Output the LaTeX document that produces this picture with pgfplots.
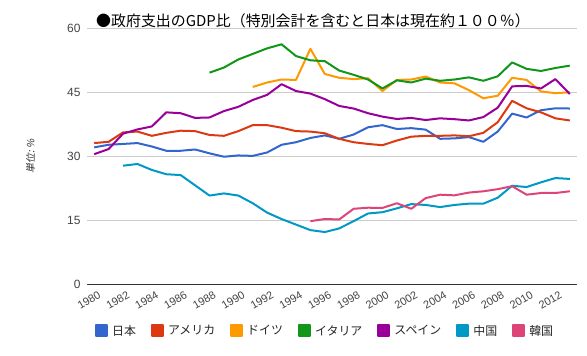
\documentclass[border=0pt]{standalone}
\usepackage{pgfplots}
\pgfplotsset{compat=1.18}
\usepackage{fontspec}
\setmainfont{Liberation Sans}
\newfontfamily\jp{Noto Sans CJK JP}
\newfontfamily\jpit[FakeSlant=0.2]{Noto Sans CJK JP}
\definecolor{cJP}{HTML}{3366CC}
\definecolor{cUS}{HTML}{DC3912}
\definecolor{cDE}{HTML}{FF9900}
\definecolor{cIT}{HTML}{109618}
\definecolor{cES}{HTML}{990099}
\definecolor{cCN}{HTML}{0099C6}
\definecolor{cKR}{HTML}{DD4477}
\definecolor{tick}{HTML}{444444}
\begin{document}
\begin{tikzpicture}[x=1bp,y=1bp]
\useasboundingbox (0,0) rectangle (587,355);
\begin{axis}[
  at={(87bp,70.7bp)}, anchor=south west,
  width=490bp, height=256bp, scale only axis,
  xmin=1979.5, xmax=2013.5, ymin=0, ymax=60,
  ytick={15,30,45,60}, extra y ticks={0},
  extra y tick style={major grid style={draw=black!80, line width=1bp}},
  xtick={1980,1982,...,2012},
  axis line style={draw=none}, tick style={draw=none},
  ymajorgrids, major grid style={draw=black!20, line width=1bp},
  /pgf/number format/1000 sep={},
  /pgf/number format/assume math mode=true,
  yticklabel style={font=\fontsize{12}{14}\selectfont, text=tick, xshift=-3bp},
  xticklabel style={font=\fontsize{11}{13}\selectfont, text=tick, rotate=30, anchor=north east, yshift=-6bp, xshift=1bp, inner sep=1bp},
  ylabel={\jpit 単位: \%},
  ylabel style={at={(axis description cs:-0.115,0.5)}, anchor=center, font=\fontsize{10}{12}\selectfont, text=black!80},
  legend columns=7,
  legend style={at={(axis description cs:0.486,-0.182)}, anchor=center, draw=none, fill=none,
    font=\jp\fontsize{12}{14}\selectfont, text=black!85,
    /tikz/every even column/.append style={column sep=13bp},
    /tikz/every odd column/.append style={column sep=2bp}},
  legend image code/.code={\fill[#1] (0bp,-5.5bp) rectangle (11bp,5.5bp);},
  every axis plot/.append style={line width=2bp, line join=round},
]
\addplot[cJP] coordinates {(1980,32.1)(1981,32.7)(1982,32.9)(1983,33.1)(1984,32.3)(1985,31.3)(1986,31.3)(1987,31.6)(1988,30.7)(1989,29.9)(1990,30.2)(1991,30.1)(1992,30.9)(1993,32.7)(1994,33.3)(1995,34.3)(1996,34.9)(1997,34.1)(1998,35.1)(1999,36.8)(2000,37.3)(2001,36.4)(2002,36.6)(2003,36.25)(2004,34.1)(2005,34.2)(2006,34.5)(2007,33.4)(2008,35.8)(2009,40.0)(2010,39.1)(2011,40.8)(2012,41.25)(2013,41.2)};
\addlegendentry{日本}
\addplot[cUS] coordinates {(1980,33.1)(1981,33.4)(1982,35.6)(1983,35.8)(1984,34.8)(1985,35.5)(1986,36.0)(1987,35.9)(1988,35.0)(1989,34.8)(1990,35.9)(1991,37.3)(1992,37.3)(1993,36.7)(1994,35.9)(1995,35.8)(1996,35.4)(1997,34.1)(1998,33.3)(1999,32.9)(2000,32.6)(2001,33.7)(2002,34.6)(2003,34.8)(2004,34.8)(2005,34.9)(2006,34.7)(2007,35.5)(2008,38.0)(2009,43.0)(2010,41.25)(2011,40.3)(2012,38.9)(2013,38.4)};
\addlegendentry{アメリカ}
\addplot[cDE] coordinates {(1991,46.25)(1992,47.3)(1993,48.0)(1994,47.9)(1995,55.2)(1996,49.3)(1997,48.4)(1998,48.1)(1999,48.3)(2000,45.3)(2001,47.9)(2002,48.0)(2003,48.7)(2004,47.3)(2005,47.1)(2006,45.5)(2007,43.6)(2008,44.2)(2009,48.4)(2010,47.9)(2011,45.2)(2012,44.8)(2013,45.0)};
\addlegendentry{ドイツ}
\addplot[cIT] coordinates {(1988,49.6)(1989,50.8)(1990,52.7)(1991,54.0)(1992,55.3)(1993,56.25)(1994,53.5)(1995,52.5)(1996,52.3)(1997,50.1)(1998,49.1)(1999,48.0)(2000,45.9)(2001,47.8)(2002,47.3)(2003,48.2)(2004,47.7)(2005,48.0)(2006,48.5)(2007,47.7)(2008,48.75)(2009,52.0)(2010,50.5)(2011,50.0)(2012,50.7)(2013,51.25)};
\addlegendentry{イタリア}
\addplot[cES] coordinates {(1980,30.5)(1981,31.7)(1982,35.3)(1983,36.3)(1984,37.0)(1985,40.3)(1986,40.1)(1987,39.0)(1988,39.1)(1989,40.6)(1990,41.6)(1991,43.2)(1992,44.4)(1993,46.9)(1994,45.3)(1995,44.7)(1996,43.4)(1997,41.8)(1998,41.2)(1999,40.1)(2000,39.3)(2001,38.75)(2002,39.0)(2003,38.5)(2004,38.9)(2005,38.7)(2006,38.4)(2007,39.2)(2008,41.4)(2009,46.4)(2010,46.5)(2011,45.9)(2012,48.1)(2013,44.6)};
\addlegendentry{スペイン}
\addplot[cCN] coordinates {(1982,27.8)(1983,28.2)(1984,26.8)(1985,25.8)(1986,25.6)(1987,23.2)(1988,20.8)(1989,21.3)(1990,20.8)(1991,19.0)(1992,16.8)(1993,15.3)(1994,14.0)(1995,12.7)(1996,12.25)(1997,13.1)(1998,14.8)(1999,16.6)(2000,16.9)(2001,17.8)(2002,18.8)(2003,18.6)(2004,18.1)(2005,18.6)(2006,18.9)(2007,18.9)(2008,20.3)(2009,23.1)(2010,22.8)(2011,23.9)(2012,24.9)(2013,24.7)};
\addlegendentry{中国}
\addplot[cKR] coordinates {(1995,14.8)(1996,15.3)(1997,15.2)(1998,17.7)(1999,17.95)(2000,17.9)(2001,19.0)(2002,17.7)(2003,20.2)(2004,21.0)(2005,20.85)(2006,21.5)(2007,21.8)(2008,22.3)(2009,23.0)(2010,21.0)(2011,21.4)(2012,21.4)(2013,21.8)};
\addlegendentry{韓国}
\end{axis}
\node[anchor=west, inner sep=0pt, font=\jp\fontsize{15}{17}\selectfont] at (96,334) {●政府支出のGDP比（特別会計を含むと日本は現在約１００％）};
\end{tikzpicture}
\end{document}
